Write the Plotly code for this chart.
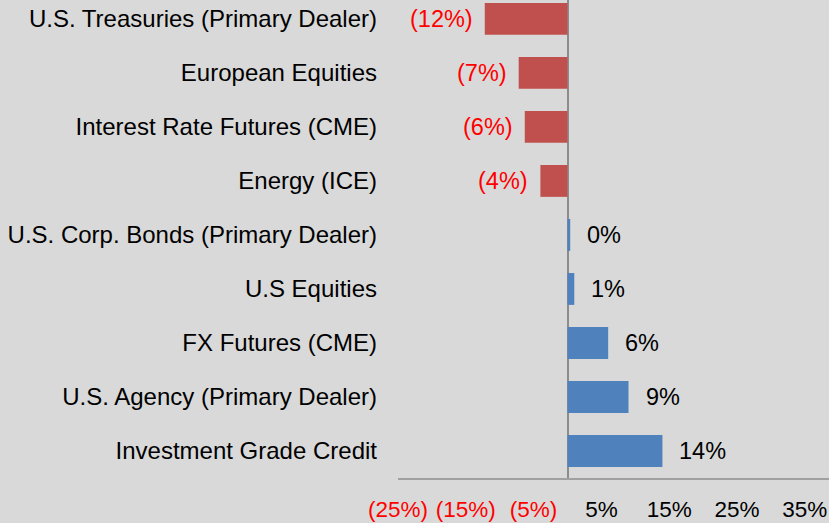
import plotly.graph_objects as go

categories = [
    "U.S. Treasuries (Primary Dealer)",
    "European Equities",
    "Interest Rate Futures (CME)",
    "Energy (ICE)",
    "U.S. Corp. Bonds (Primary Dealer)",
    "U.S Equities",
    "FX Futures (CME)",
    "U.S. Agency (Primary Dealer)",
    "Investment Grade Credit",
]
values = [-12.2, -7.2, -6.3, -4.0, 0.4, 1.0, 6.0, 9.0, 14.0]
value_labels = ["(12%)", "(7%)", "(6%)", "(4%)", "0%", "1%", "6%", "9%", "14%"]
tick_values = [-25, -15, -5, 5, 15, 25, 35]
tick_labels = ["(25%)", "(15%)", "(5%)", "5%", "15%", "25%", "35%"]

RED_BAR = "#c0504d"
BLUE_BAR = "#4f81bd"
BG = "#d9d9d9"
FONT = "Liberation Sans, Arial, sans-serif"

cats_bt = categories[::-1]
vals_bt = values[::-1]
labs_bt = value_labels[::-1]

fig = go.Figure()
fig.add_trace(go.Bar(
    y=cats_bt, x=vals_bt, orientation="h",
    marker=dict(color=[RED_BAR if v < 0 else BLUE_BAR for v in vals_bt], line=dict(width=0)),
    hoverinfo="skip",
))

for c, v, t in zip(cats_bt, vals_bt, labs_bt):
    neg = v < 0
    fig.add_annotation(
        x=v, y=c, text=t, showarrow=False,
        xanchor="right" if neg else "left",
        xshift=-10 if neg else 15,
        font=dict(family=FONT, size=23.5, color="#ff0000" if neg else "#000000"),
    )

ticktext = [
    f'<span style="color:#ff0000">{t}</span>' if v < 0 else t
    for v, t in zip(tick_values, tick_labels)
]

fig.update_layout(
    width=829, height=523,
    margin=dict(l=398, r=0, t=0, b=45),
    paper_bgcolor=BG, plot_bgcolor=BG,
    showlegend=False,
    bargap=0.41,
    font=dict(family=FONT, size=24, color="#000000"),
    xaxis=dict(
        range=[-25, 38.57],
        tickvals=tick_values, ticktext=ticktext,
        showgrid=False,
        zeroline=True, zerolinecolor="#8c8c8c", zerolinewidth=2,
        showline=True, linecolor="#a0a0a0", linewidth=2,
        ticks="", ticklabelstandoff=10,
        tickfont=dict(family=FONT, size=22.5, color="#000000"),
        fixedrange=True,
    ),
    yaxis=dict(
        type="category",
        categoryorder="array", categoryarray=cats_bt,
        range=[-0.5, 8.35],
        showgrid=False, zeroline=False, showline=False,
        ticks="", ticklabelstandoff=20,
        tickfont=dict(family=FONT, size=24, color="#000000"),
        fixedrange=True,
    ),
)

fig.write_html(
    "out.html",
    config={"displayModeBar": False},
    post_script="document.body.style.margin='0';document.body.style.overflow='hidden';",
)
